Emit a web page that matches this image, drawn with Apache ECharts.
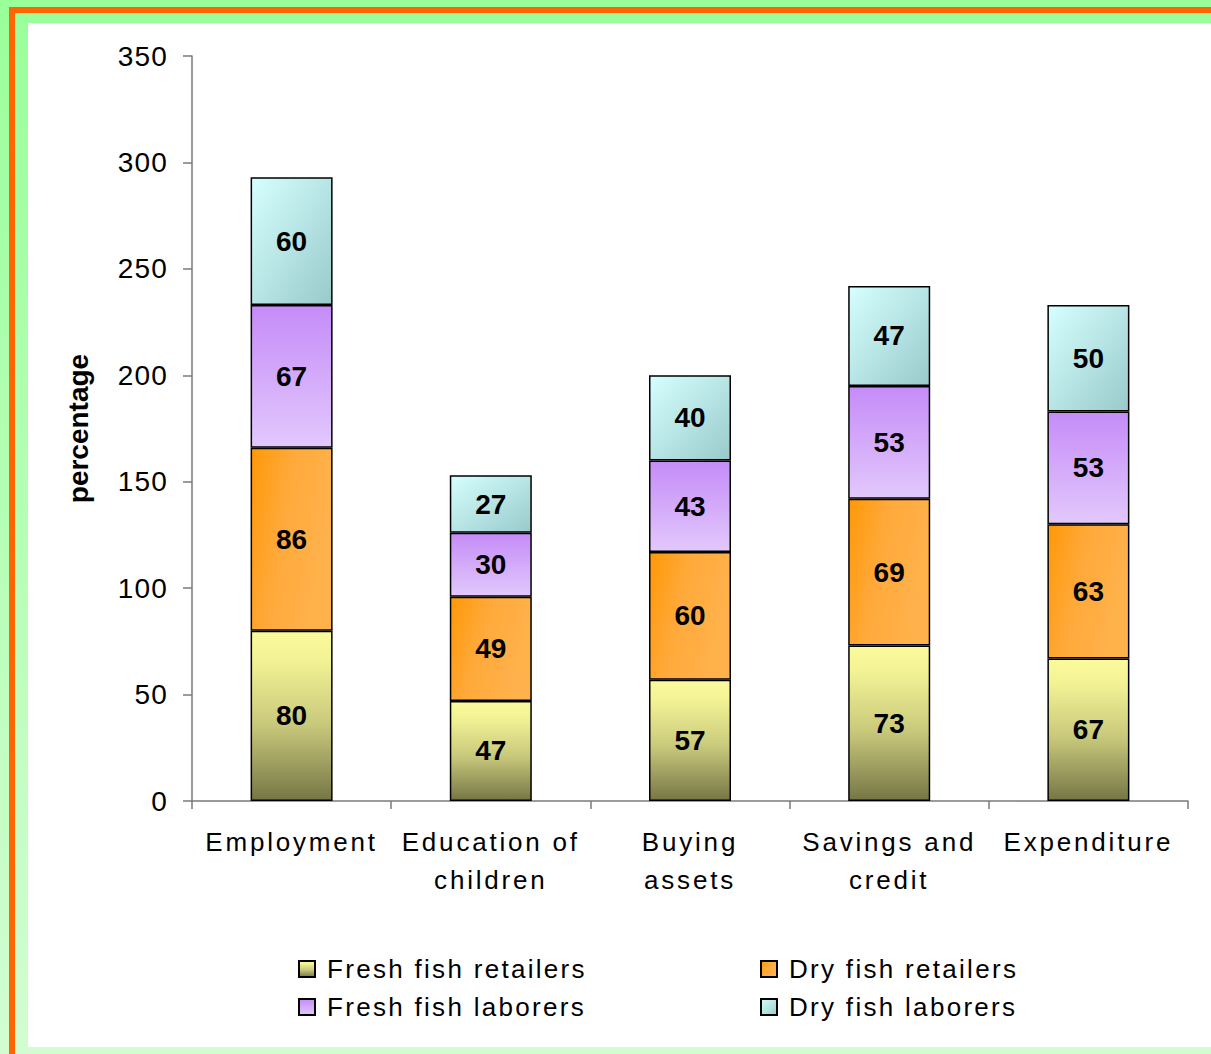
<!DOCTYPE html>
<html>
<head>
<meta charset="utf-8">
<script src="https://cdn.jsdelivr.net/npm/echarts@6/dist/echarts.min.js"></script>
<style>
html,body{margin:0;padding:0;background:#fff;}
#c{width:1211px;height:1054px;}
</style>
</head>
<body>
<div id="c"></div>
<script>
// ---- data ----
const categories = ['Employment', 'Education of\nchildren', 'Buying\nassets', 'Savings and\ncredit', 'Expenditure'];
const seriesNames = ['Fresh fish retailers', 'Dry fish retailers', 'Fresh fish laborers', 'Dry fish laborers'];
const freshRetailers = [80, 47, 57, 73, 67];
const dryRetailers = [86, 49, 60, 69, 63];
const freshLaborers = [67, 30, 43, 53, 53];
const dryLaborers = [60, 27, 40, 47, 50];
const yMin = 0, yMax = 350, yInterval = 50;
const yName = 'percentage';

// ---- styles ----
const FONT = '"Liberation Sans", Arial, sans-serif';
const grad = (x, y, x2, y2, stops) => new echarts.graphic.LinearGradient(x, y, x2, y2,
  stops.map((c) => ({ offset: c[0], color: c[1] })));
const fills = [
  grad(0, 0, 0, 1, [[0, '#fbfb9c'], [0.15, '#f4f496'], [0.55, '#c9c97c'], [1, '#767646']]),
  grad(0, 0, 1, 0.35, [[0, '#ff9806'], [0.45, '#ffa93a'], [1, '#ffb24c']]),
  grad(0, 0, 0, 1, [[0, '#c58cf8'], [1, '#e2c8fc']]),
  grad(0, 0, 1, 1, [[0, '#d6ffff'], [1, '#99caca']])
];
const values = [freshRetailers, dryRetailers, freshLaborers, dryLaborers];

const series = seriesNames.map((name, i) => ({
  name: name,
  type: 'bar',
  stack: 'total',
  barWidth: 82,
  data: values[i],
  itemStyle: { color: fills[i], borderColor: '#000', borderWidth: 1.5 },
  label: {
    show: true, position: 'inside', color: '#000',
    fontWeight: 'bold', fontSize: 28, fontFamily: FONT
  },
  emphasis: { disabled: true }
}));

const chart = echarts.init(document.getElementById('c'), null, { renderer: 'svg' });

const legendCommon = {
  orient: 'vertical', top: 951, itemWidth: 16, itemHeight: 16, itemGap: 12,
  icon: 'rect',
  textStyle: { fontSize: 26, lineHeight: 26, color: '#000', fontFamily: FONT, padding: [0, 0, 0, 7] },
  selectedMode: false
};

chart.setOption({
  animation: false,
  graphic: [
    { type: 'rect', z: -10, shape: { x: 0, y: 0, width: 1211, height: 1054 },
      style: { fill: grad(0, 0, 0, 1, [[0, '#99ff99'], [1, '#d2fdd2']]) } },
    { type: 'rect', z: -9, shape: { x: 9, y: 7, width: 1202, height: 6 }, style: { fill: '#ff6600' } },
    { type: 'rect', z: -9, shape: { x: 9, y: 7, width: 6, height: 1047 }, style: { fill: '#ff6600' } },
    { type: 'rect', z: -8, shape: { x: 28, y: 23, width: 1183, height: 1024 }, style: { fill: '#ffffff' } }
  ],
  grid: { left: 192, right: 23, top: 56, bottom: 253, containLabel: false },
  legend: [
    Object.assign({ left: 293, data: [seriesNames[0], seriesNames[2]] }, legendCommon),
    Object.assign({ left: 755, data: [seriesNames[1], seriesNames[3]] }, legendCommon)
  ],
  xAxis: {
    type: 'category',
    data: categories,
    axisLine: { show: true, lineStyle: { color: '#7a7a7a', width: 1.5 } },
    axisTick: { show: true, length: 8, lineStyle: { color: '#7a7a7a', width: 1.5 } },
    axisLabel: { interval: 0, color: '#000', fontSize: 26, lineHeight: 38, margin: 22, fontFamily: FONT }
  },
  yAxis: {
    type: 'value',
    min: yMin, max: yMax, interval: yInterval,
    name: yName, nameLocation: 'middle', nameRotate: 90, nameGap: 100,
    nameTextStyle: { fontSize: 28, fontWeight: 'bold', color: '#000', fontFamily: FONT },
    splitLine: { show: false },
    axisLine: { show: true, lineStyle: { color: '#7a7a7a', width: 1.5 } },
    axisTick: { show: true, length: 9, lineStyle: { color: '#7a7a7a', width: 1.5 } },
    axisLabel: { color: '#000', fontSize: 28, margin: 24, fontFamily: FONT }
  },
  series: series
});

// widen letter spacing of regular-weight texts to match the reference's spaced lettering
const catLines = new Set([].concat(...categories.map(c => c.split('\n'))));
function applySpacing() {
  document.querySelectorAll('#c svg text').forEach(t => {
    const s = t.textContent;
    const bold = (getComputedStyle(t).fontWeight | 0) >= 600;
    if (bold) return;
    if (catLines.has(s)) t.setAttribute('letter-spacing', '2.8');
    else if (seriesNames.includes(s)) t.setAttribute('letter-spacing', '2.3');
    else if (/^\d+$/.test(s)) t.setAttribute('letter-spacing', '1.2');
  });
}
applySpacing();
chart.on('finished', applySpacing);
</script>
</body>
</html>
